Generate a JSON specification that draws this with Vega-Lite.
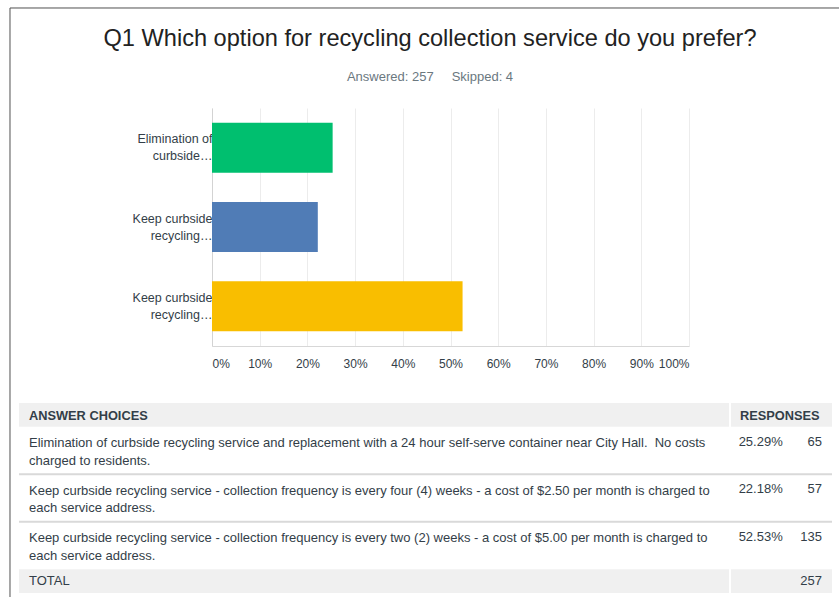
{
  "$schema": "https://vega.github.io/schema/vega-lite/v6.json",
  "padding": {"left": 9, "top": 7, "right": 0, "bottom": 0},
  "background": "white",
  "bounds": "flush",
  "spacing": 57,
  "config": {"view": {"stroke": null}, "font": "Liberation Sans"},
  "datasets": {
    "rows": [
      {"kind": "header", "top": 0, "bottom": 1, "text": "ANSWER CHOICES", "resp": "RESPONSES"},
      {"kind": "answer", "top": 1, "bottom": 3, "text": "Elimination of curbside recycling service and replacement with a 24 hour self-serve container near City Hall.\u00a0 No costs\ncharged to residents.", "pct": 0.2529, "count": 65},
      {"kind": "answer", "top": 3, "bottom": 5, "text": "Keep curbside recycling service - collection frequency is every four (4) weeks - a cost of $2.50 per month is charged to\neach service address.", "pct": 0.2218, "count": 57},
      {"kind": "answer", "top": 5, "bottom": 7, "text": "Keep curbside recycling service - collection frequency is every two (2) weeks - a cost of $5.00 per month is charged to\neach service address.", "pct": 0.5253, "count": 135},
      {"kind": "total", "top": 7, "bottom": 8, "text": "TOTAL", "count": 257}
    ]
  },
  "data": {"name": "rows"},
  "vconcat": [
    {
      "width": 477,
      "height": 238,
      "title": {
        "text": "Q1 Which option for recycling collection service do you prefer?",
        "subtitle": "Answered: 257\u00a0\u00a0\u00a0\u00a0\u00a0Skipped: 4",
        "font": "Liberation Sans",
        "fontSize": 23.6,
        "fontWeight": "normal",
        "color": "#222222",
        "subtitleFont": "Liberation Sans",
        "subtitleFontSize": 13,
        "subtitleColor": "#6b787f",
        "subtitlePadding": 20,
        "anchor": "middle",
        "frame": "group",
        "dx": -20.5,
        "offset": 24
      },
      "transform": [{"filter": "datum.kind == 'answer'"}],
      "mark": {"type": "bar"},
      "encoding": {
        "y": {
          "field": "text",
          "type": "nominal",
          "sort": null,
          "scale": {"paddingInner": 0.37, "paddingOuter": 0.185},
          "axis": {
            "title": null,
            "ticks": false,
            "labelPadding": 0,
            "labelFontSize": 12.5,
            "labelColor": "#333e48",
            "labelLineHeight": 17,
            "labelOffset": -8.5,
            "labelLimit": 0,
            "domainColor": "#d3d3d3",
            "labelExpr": "[split(datum.label, ' ')[0] + ' ' + split(datum.label, ' ')[1], split(datum.label, ' ')[2] + '…']"
          }
        },
        "x": {
          "field": "pct",
          "type": "quantitative",
          "scale": {"domain": [0, 1], "nice": false},
          "axis": {
            "title": null,
            "values": [0, 0.1, 0.2, 0.3, 0.4, 0.5, 0.6, 0.7, 0.8, 0.9, 1],
            "format": ".0%",
            "labelFlush": true,
            "ticks": false,
            "labelPadding": 12,
            "labelFontSize": 12,
            "labelColor": "#333e48",
            "grid": true,
            "gridColor": "#ececec",
            "domainColor": "#d7d7d7"
          }
        },
        "color": {
          "field": "text",
          "type": "nominal",
          "sort": null,
          "scale": {"range": ["#00bf6f", "#507cb6", "#f9be00"]},
          "legend": null
        }
      }
    },
    {
      "width": 620,
      "height": 190,
      "layer": [
        {
          "transform": [{"filter": "datum.kind != 'answer'"}],
          "mark": {"type": "rect", "color": "#f0f0f0"},
          "encoding": {
            "x": {"datum": 0, "type": "quantitative", "scale": {"domain": [23.74, 100], "nice": false, "zero": false}, "axis": null},
            "x2": {"datum": 87.33},
            "y": {"field": "top", "type": "quantitative", "scale": {"domain": [0, 8], "reverse": true, "nice": false, "zero": false}, "axis": null},
            "y2": {"field": "bottom"}
          }
        },
        {
          "transform": [{"filter": "datum.kind != 'answer'"}],
          "mark": {"type": "rect", "color": "#f0f0f0"},
          "encoding": {
            "x": {"datum": 87.58, "type": "quantitative"},
            "x2": {"datum": 100},
            "y": {"field": "top", "type": "quantitative"},
            "y2": {"field": "bottom"}
          }
        },
        {
          "transform": [{"filter": "datum.kind == 'answer' && datum.top > 1"}],
          "mark": {"type": "rule", "color": "#d9d9d9", "strokeWidth": 2},
          "encoding": {
            "x": {"datum": 0, "type": "quantitative"},
            "x2": {"datum": 100},
            "y": {"field": "top", "type": "quantitative"}
          }
        },
        {
          "transform": [{"filter": "datum.kind == 'header'"}],
          "mark": {"type": "text", "align": "left", "baseline": "middle", "dy": 12.5, "fontSize": 12.8, "fontWeight": "bold", "color": "#333e48"},
          "encoding": {
            "x": {"datum": 1.23, "type": "quantitative"},
            "y": {"field": "top", "type": "quantitative"},
            "text": {"field": "text"}
          }
        },
        {
          "transform": [{"filter": "datum.kind == 'header'"}],
          "mark": {"type": "text", "align": "left", "baseline": "middle", "dy": 12.5, "fontSize": 12.8, "fontWeight": "bold", "color": "#333e48"},
          "encoding": {
            "x": {"datum": 88.68, "type": "quantitative"},
            "y": {"field": "top", "type": "quantitative"},
            "text": {"field": "resp"}
          }
        },
        {
          "transform": [{"filter": "datum.kind == 'answer'"}],
          "mark": {"type": "text", "align": "left", "baseline": "middle", "dy": 16.5, "fontSize": 13, "lineBreak": "\n", "lineHeight": 17.5, "color": "#333e48"},
          "encoding": {
            "x": {"datum": 1.23, "type": "quantitative"},
            "y": {"field": "top", "type": "quantitative"},
            "text": {"field": "text"}
          }
        },
        {
          "transform": [{"filter": "datum.kind == 'answer'"}],
          "mark": {"type": "text", "align": "right", "baseline": "middle", "dy": 15, "fontSize": 13, "color": "#333e48"},
          "encoding": {
            "x": {"datum": 93.94, "type": "quantitative"},
            "y": {"field": "top", "type": "quantitative"},
            "text": {"field": "pct", "type": "quantitative", "format": ".2%"}
          }
        },
        {
          "transform": [{"filter": "datum.kind == 'answer'"}],
          "mark": {"type": "text", "align": "right", "baseline": "middle", "dy": 15, "fontSize": 13, "color": "#333e48"},
          "encoding": {
            "x": {"datum": 98.77, "type": "quantitative"},
            "y": {"field": "top", "type": "quantitative"},
            "text": {"field": "count", "type": "quantitative"}
          }
        },
        {
          "transform": [{"filter": "datum.kind == 'total'"}],
          "mark": {"type": "text", "align": "left", "baseline": "middle", "dy": 11.5, "fontSize": 13, "color": "#333e48"},
          "encoding": {
            "x": {"datum": 1.23, "type": "quantitative"},
            "y": {"field": "top", "type": "quantitative"},
            "text": {"field": "text"}
          }
        },
        {
          "transform": [{"filter": "datum.kind == 'total'"}],
          "mark": {"type": "text", "align": "right", "baseline": "middle", "dy": 11.5, "fontSize": 13, "color": "#333e48"},
          "encoding": {
            "x": {"datum": 98.77, "type": "quantitative"},
            "y": {"field": "top", "type": "quantitative"},
            "text": {"field": "count", "type": "quantitative"}
          }
        },
        {
          "data": {"values": [{"edge": "left"}]},
          "mark": {"type": "rule", "color": "#505050", "strokeWidth": 1},
          "encoding": {
            "x": {"datum": -1.107, "type": "quantitative"},
            "y": {"datum": -16.632, "type": "quantitative"},
            "y2": {"datum": 8.3}
          }
        },
        {
          "data": {"values": [{"edge": "top"}]},
          "mark": {"type": "rule", "color": "#505050", "strokeWidth": 1},
          "encoding": {
            "x": {"datum": -1.107, "type": "quantitative"},
            "x2": {"datum": 100.98},
            "y": {"datum": -16.632, "type": "quantitative"}
          }
        }
      ]
    }
  ]
}
